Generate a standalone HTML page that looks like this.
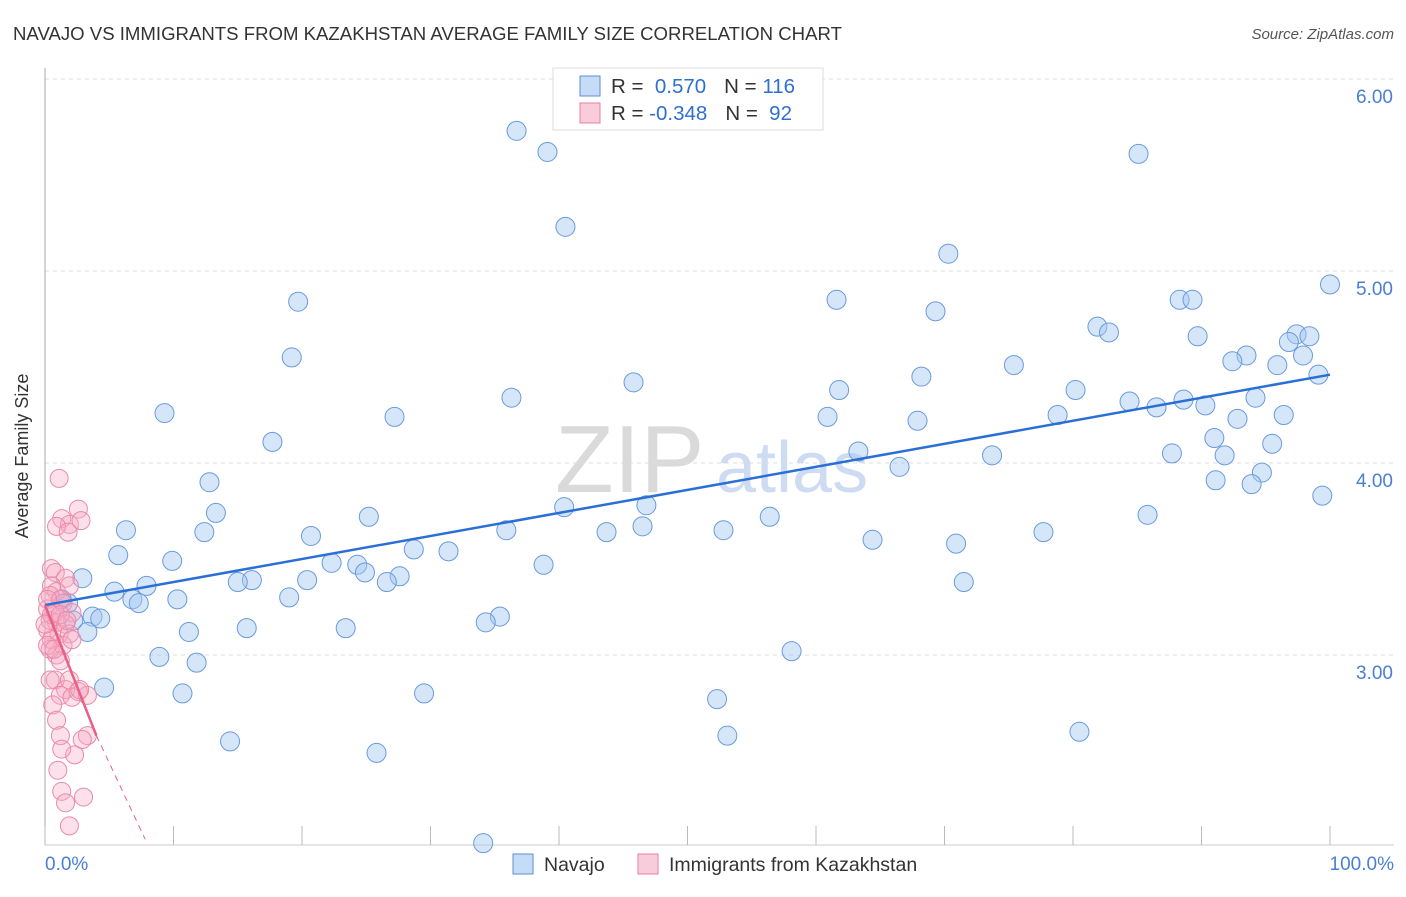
<!DOCTYPE html>
<html><head><meta charset="utf-8"><style>
body{margin:0;background:#fff;font-family:"Liberation Sans",sans-serif}
svg text{font-family:"Liberation Sans",sans-serif}
</style></head><body>
<svg id="c" width="1406" height="892" xmlns="http://www.w3.org/2000/svg">
<text x="13" y="40" font-size="18.6" fill="#333">NAVAJO VS IMMIGRANTS FROM KAZAKHSTAN AVERAGE FAMILY SIZE CORRELATION CHART</text>
<text x="1394" y="39" font-size="15" fill="#555" font-style="italic" text-anchor="end">Source: ZipAtlas.com</text>
<text x="28" y="456" font-size="18" fill="#333" text-anchor="middle" transform="rotate(-90 28 456)">Average Family Size</text>
<text x="555" y="492" font-size="96" fill="#dadada" font-family="Liberation Serif">ZIP</text>
<text x="716" y="492" font-size="72" fill="#cddcf2">atlas</text>
<g id="grid"></g><g id="pts"></g><g id="trend"></g>
<g>
<rect x="553" y="68" width="270" height="62" fill="#fff" stroke="#ddd"/>
<rect x="580" y="76" width="20" height="20" fill="rgba(160,196,240,0.6)" stroke="#5b8fd8"/>
<rect x="580" y="103" width="20" height="20" fill="rgba(245,170,195,0.6)" stroke="#e87fa0"/>
<text x="611" y="93" font-size="20.5" fill="#333">R = <tspan fill="#2f6fd0">&#160;0.570</tspan><tspan dx="18">N = </tspan><tspan fill="#2f6fd0">116</tspan></text>
<text x="611" y="120" font-size="20.5" fill="#333">R = <tspan fill="#2f6fd0">-0.348</tspan><tspan dx="18">N = </tspan><tspan fill="#2f6fd0">&#160;92</tspan></text>
</g>
<g>
<rect x="513" y="854" width="20" height="20" fill="rgba(160,196,240,0.6)" stroke="#5b8fd8"/>
<text x="544" y="871" font-size="19.5" fill="#333">Navajo</text>
<rect x="638" y="854" width="20" height="20" fill="rgba(245,170,195,0.6)" stroke="#e87fa0"/>
<text x="669" y="871" font-size="19.5" fill="#333">Immigrants from Kazakhstan</text>
</g>
<text x="45" y="870" font-size="19" fill="#4a7fd0">0.0%</text>
<text x="1394" y="870" font-size="19" fill="#4a7fd0" text-anchor="end">100.0%</text>
</svg>
<script>
const yTicks=[3,4,5,6];
const yTickLabels=["3.00","4.00","5.00","6.00"];
const xTicks=[0,10,20,30,40,50,60,70,80,90,100];
const navajoX=[36.7,39.1,40.5,85.1,70.3,19.7,61.6,69.3,100,88.3,89.3,81.9,82.8,89.7,97.4,98.4,96.8,93.5,97.9,92.4,95.9,19.2,75.4,68.2,45.8,99.1,61.8,80.2,36.3,9.3,27.2,60.9,84.4,86.5,88.6,90.3,94.2,78.8,67.9,96.4,92.8,17.7,91.0,95.5,63.3,73.7,87.7,91.8,66.5,94.7,91.1,93.9,12.8,99.4,85.8,13.3,40.4,46.8,56.4,25.2,46.5,6.3,12.4,43.7,52.8,35.9,77.7,20.7,64.4,70.9,5.7,9.9,28.7,31.4,22.3,24.3,38.8,24.9,27.6,2.9,16.1,15.0,20.4,26.6,7.9,71.5,5.4,19.0,10.3,6.8,7.3,1.8,1.3,3.7,4.3,2.2,35.4,34.3,3.3,11.2,15.7,23.4,58.1,8.9,11.8,4.6,10.7,29.5,52.3,80.5,53.1,14.4,25.8,34.1];
const navajoY=[5.73,5.62,5.23,5.61,5.09,4.84,4.85,4.79,4.93,4.85,4.85,4.71,4.68,4.66,4.67,4.66,4.63,4.56,4.56,4.53,4.51,4.55,4.51,4.45,4.42,4.46,4.38,4.38,4.34,4.26,4.24,4.24,4.32,4.29,4.33,4.30,4.34,4.25,4.22,4.25,4.23,4.11,4.13,4.10,4.06,4.04,4.05,4.04,3.98,3.95,3.91,3.89,3.90,3.83,3.73,3.74,3.77,3.78,3.72,3.72,3.67,3.65,3.64,3.64,3.65,3.65,3.64,3.62,3.60,3.58,3.52,3.49,3.55,3.54,3.48,3.47,3.47,3.43,3.41,3.40,3.39,3.38,3.39,3.38,3.36,3.38,3.33,3.30,3.29,3.29,3.27,3.27,3.29,3.20,3.19,3.18,3.20,3.17,3.12,3.12,3.14,3.14,3.02,2.99,2.96,2.83,2.80,2.80,2.77,2.60,2.58,2.55,2.49,2.02];
const kazX=[1.1,2.6,1.3,1.9,0.9,1.8,0.5,0.8,1.6,0.5,0.9,1.9,0.4,1.2,1.4,0.2,0.8,2.1,0.4,0.9,1.6,0.2,1.1,1.9,0.5,1.4,0.4,0.9,0.2,1.2,0.8,1.6,2.6,0.4,1.2,2.1,3.3,0.6,0.9,1.2,3.3,2.9,2.3,1.3,1.0,1.3,3.0,1.6,1.9,0.2,0.5,0.0,1.2,1.7,0.7,1.9,2.7,2.8,2.1];
const kazY=[3.92,3.76,3.71,3.68,3.67,3.64,3.45,3.43,3.40,3.36,3.33,3.36,3.31,3.29,3.27,3.24,3.22,3.22,3.18,3.17,3.16,3.13,3.11,3.11,3.08,3.05,3.03,3.00,3.05,2.97,2.87,2.82,2.81,2.87,2.79,2.78,2.79,2.74,2.66,2.58,2.58,2.56,2.48,2.51,2.40,2.29,2.26,2.23,2.11,3.29,3.21,3.16,3.21,3.18,3.03,2.87,2.82,3.70,3.08];
const navTrend=[[0,3.26],[100,4.46]];
const kazTrendSolid=[[0,3.26],[4.0,2.58]];
const kazTrendDash=[[4.0,2.58],[7.8,2.04]];
const NS="http://www.w3.org/2000/svg";
const X=v=>45+v*12.85, Y=v=>655-(v-3)*192;
function mk(t,a,p){const e=document.createElementNS(NS,t);for(const k in a)e.setAttribute(k,a[k]);p.appendChild(e);return e;}
const g=document.getElementById('grid');
yTicks.forEach((t,i)=>{
 const l=mk('line',{x1:45,x2:1394,y1:Y(t),y2:Y(t),stroke:'#ddd','stroke-dasharray':'4 4'},g);
 
 
 const tx=mk('text',{x:1393,y:Y(t)+24,'font-size':19,fill:'#4a7fd0','text-anchor':'end'},g);
 tx.textContent=yTickLabels[i];
 
 
});
const ax=mk('line',{x1:45,x2:45,y1:68,y2:845,stroke:'#aaa'},g);


const bx=mk('line',{x1:45,x2:1394,y1:845,y2:845,stroke:'#ccc'},g);


xTicks.forEach(t=>{const l=mk('line',{x1:X(t),x2:X(t),y1:826,y2:845,stroke:'#bbb'},g);
 
 });
const p=document.getElementById('pts');
navajoX.forEach((v,i)=>{const c=mk('circle',{cx:X(v),cy:Y(navajoY[i]),r:9.5,fill:'rgba(165,200,242,0.45)',stroke:'#6a9ade','stroke-width':1},p);
 
 });
kazX.forEach((v,i)=>{const c=mk('circle',{cx:X(v),cy:Y(kazY[i]),r:9,fill:'rgba(245,170,195,0.35)',stroke:'#ea8aa8','stroke-width':1},p);
 
 });
const tr=document.getElementById('trend');
function ln(d,col,dash,name){const l=mk('line',{x1:X(d[0][0]),y1:Y(d[0][1]),x2:X(d[1][0]),y2:Y(d[1][1]),stroke:col,'stroke-width':dash?1:2.5},tr);
 if(dash)l.setAttribute('stroke-dasharray','6 5');
 
 }
ln(navTrend,'#2a6fd6',false,'navajo-trendline');
ln(kazTrendSolid,'#e8608a',false,'kazakhstan-trendline');
ln(kazTrendDash,'#e8608a',true,'kazakhstan-trendline-extension');
</script>
</body></html>
